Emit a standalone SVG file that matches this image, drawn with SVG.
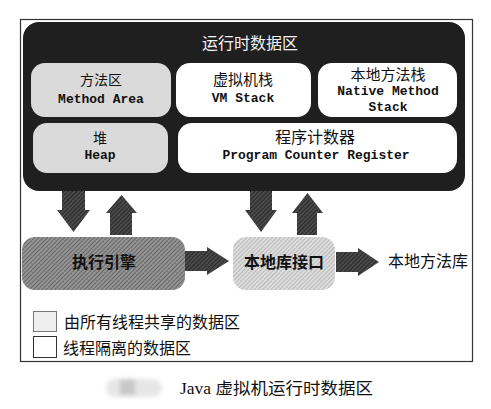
<svg xmlns="http://www.w3.org/2000/svg" width="491" height="409" viewBox="0 0 491 409">
  <defs>
    <pattern id="hatchDark" patternUnits="userSpaceOnUse" width="3" height="3" patternTransform="rotate(45)">
      <rect width="3" height="3" fill="#4a4a4a"/>
      <line x1="0" y1="0" x2="0" y2="3" stroke="#1e1e1e" stroke-width="1.5"/>
    </pattern>
    <pattern id="hatchMid" patternUnits="userSpaceOnUse" width="3" height="3" patternTransform="rotate(45)">
      <rect width="3" height="3" fill="#949494"/>
      <line x1="0" y1="0" x2="0" y2="3" stroke="#585858" stroke-width="1.5"/>
    </pattern>
    <pattern id="hatchLight" patternUnits="userSpaceOnUse" width="3" height="3" patternTransform="rotate(45)">
      <rect width="3" height="3" fill="#dcdcdc"/>
      <line x1="0" y1="0" x2="0" y2="3" stroke="#a8a8a8" stroke-width="1.3"/>
    </pattern>
    <filter id="blur" x="-20%" y="-40%" width="140%" height="180%">
      <feGaussianBlur stdDeviation="2"/>
    </filter>
  </defs>
  <style>
    .cjk { font-family: "Noto Sans CJK SC", "Liberation Sans", sans-serif; text-anchor: middle; fill: #111; }
    .mono { font-family: "Liberation Mono", "DejaVu Sans Mono", monospace; font-weight: bold; font-size: 13px; text-anchor: middle; fill: #111; }
    .arrow { fill: url(#hatchDark); }
    .legend { font-family: "Noto Sans CJK SC", "Liberation Sans", sans-serif; font-size: 16px; fill: #111; }
    .caption { font-family: "Liberation Serif", "Noto Sans CJK SC", serif; font-size: 16px; fill: #111; }
  </style>
  <rect width="491" height="409" fill="#ffffff"/>

  <!-- outer frame -->
  <rect x="20.5" y="19.5" width="452" height="342" fill="none" stroke="#333" stroke-width="1.2"/>

  <!-- runtime data area container -->
  <g id="runtime-data-area">
    <rect x="23" y="22" width="442" height="169" rx="16" fill="#1f1f1f"/>
    <text x="250" y="49" class="cjk" font-size="16" style="fill:#f2f2f2">运行时数据区</text>
  </g>

  <g id="method-area">
    <rect x="31" y="63" width="140" height="54" rx="14" fill="#dadada"/>
    <text x="101" y="85" class="cjk" font-size="14">方法区</text>
    <text x="101" y="103" class="mono">Method Area</text>
  </g>

  <g id="vm-stack">
    <rect x="176" y="63" width="135" height="54" rx="14" fill="#ffffff"/>
    <text x="243" y="85" class="cjk" font-size="15">虚拟机栈</text>
    <text x="243" y="102" class="mono">VM Stack</text>
  </g>

  <g id="native-method-stack">
    <rect x="318" y="63" width="139" height="54" rx="14" fill="#ffffff"/>
    <text x="388" y="80" class="cjk" font-size="15">本地方法栈</text>
    <text x="388" y="95" class="mono">Native Method</text>
    <text x="388" y="111" class="mono">Stack</text>
  </g>

  <g id="heap">
    <rect x="33" y="123" width="135" height="50" rx="14" fill="#dadada"/>
    <text x="100" y="143" class="cjk" font-size="14">堆</text>
    <text x="100" y="159" class="mono">Heap</text>
  </g>

  <g id="program-counter-register">
    <rect x="178" y="123" width="279" height="50" rx="14" fill="#ffffff"/>
    <text x="315" y="143" class="cjk" font-size="16">程序计数器</text>
    <text x="316" y="159" class="mono">Program Counter Register</text>
  </g>

  <g id="execution-engine">
    <rect x="22" y="237" width="163" height="53" rx="13" fill="url(#hatchMid)"/>
    <text x="104" y="268" class="cjk" font-size="16" font-weight="bold">执行引擎</text>
  </g>

  <g id="native-interface">
    <rect x="233" y="237" width="102" height="53" rx="13" fill="url(#hatchLight)"/>
    <text x="284" y="268" class="cjk" font-size="16" font-weight="bold">本地库接口</text>
  </g>

  <g id="native-method-library">
    <text x="428" y="267" class="cjk" font-size="16">本地方法库</text>
  </g>

  <g id="connectors">
    <polygon class="arrow" points="62,191 85,191 85,210 90,210 73.5,232 57,210 62,210"/>
    <polygon class="arrow" points="121.5,195 137,213 132,213 132,235 110,235 110,213 106,213"/>
    <polygon class="arrow" points="250,191 272,191 272,210 277,210 261,232 245,210 250,210"/>
    <polygon class="arrow" points="307.5,193 323,213 317,213 317,235 297,235 297,213 292,213"/>
    <polygon class="arrow" points="185,251 207,251 207,247 229,261 207,275 207,271 185,271"/>
    <polygon class="arrow" points="336,252 358,252 358,248 379,262 358,276 358,272 336,272"/>
  </g>

  <g id="legend-shared">
    <rect x="33.5" y="311.5" width="23" height="20" fill="#efefef" stroke="#777" stroke-width="1"/>
    <text x="64" y="328" class="legend">由所有线程共享的数据区</text>
  </g>
  <g id="legend-isolated">
    <rect x="33.5" y="336.5" width="23" height="21" fill="#ffffff" stroke="#333" stroke-width="1"/>
    <text x="63" y="354" class="legend">线程隔离的数据区</text>
  </g>

  <g id="caption">
    <g filter="url(#blur)">
      <rect x="106" y="379" width="56" height="18" rx="9" fill="#e6e6e6"/>
      <rect x="120" y="379" width="15" height="16" fill="#c8c8c8"/>
    </g>
    <text x="180" y="394" class="caption" textLength="193" lengthAdjust="spacingAndGlyphs">Java 虚拟机运行时数据区</text>
  </g>
</svg>
